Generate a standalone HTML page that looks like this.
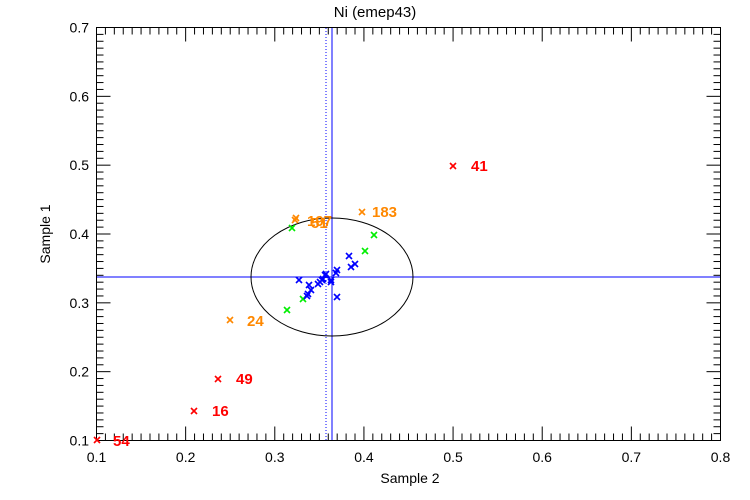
<!DOCTYPE html>
<html><head><style>body{margin:0;background:#fff}svg{display:block}text{font-family:"Liberation Sans",sans-serif}</style></head>
<body>
<svg width="750" height="500" viewBox="0 0 750 500" xmlns="http://www.w3.org/2000/svg">
<rect width="750" height="500" fill="#fff"/>
<g id="ticks" stroke="#000" stroke-width="1"></g>
<rect x="96.5" y="27.5" width="624" height="413" fill="none" stroke="#000"/>
<g font-size="14" fill="#000" text-anchor="middle" id="xl"></g>
<g font-size="14" fill="#000" text-anchor="end" id="yl"></g>
<text x="375" y="17" font-size="15" text-anchor="middle">Ni (emep43)</text>
<text x="410" y="483" font-size="14" text-anchor="middle">Sample 2</text>
<text x="50" y="234" font-size="14" text-anchor="middle" transform="rotate(-90 50 234)">Sample 1</text>
<line x1="332" y1="28" x2="332" y2="440" stroke="#00f"/>
<line x1="326" y1="28" x2="326" y2="440" stroke="#00f" stroke-dasharray="1,2"/>
<line x1="97" y1="277" x2="720" y2="277" stroke="#00f"/>
<ellipse cx="332" cy="277" rx="81" ry="59" fill="none" stroke="#000"/>
<g id="pts" stroke-width="1.6"></g>
<g font-size="15" font-weight="bold">
<text x="471" y="171" fill="#f00">41</text>
<text x="236" y="384" fill="#f00">49</text>
<text x="212" y="416" fill="#f00">16</text>
<text x="113" y="446" fill="#f00">54</text>
<text x="372" y="217" fill="#f80">183</text>
<text x="247" y="326" fill="#f80">24</text>
<text x="307" y="226" fill="#f80">197</text>
<text x="311" y="228" fill="#f80">51</text>
</g>
<script>
var ns="http://www.w3.org/2000/svg";
function el(p,t,a){var e=document.createElementNS(ns,t);for(var k in a)e.setAttribute(k,a[k]);document.getElementById(p).appendChild(e);return e;}
var L=96.5,R=720.5,T=27.5,B=440.5,px=(R-L)/70,py=(B-T)/60;
for(var i=0;i<=70;i++){var x=L+i*px,len=i%10==0?14:7;
el("ticks","line",{x1:x,y1:B,x2:x,y2:B-len});el("ticks","line",{x1:x,y1:T,x2:x,y2:T+len});
if(i%10==0){var t=el("xl","text",{x:x,y:462});t.textContent=(0.1+i/100).toFixed(1);}}
for(var j=0;j<=60;j++){var y=B-j*py,len=j%10==0?14:7;
el("ticks","line",{x1:L,y1:y,x2:L+len,y2:y});el("ticks","line",{x1:R,y1:y,x2:R-len,y2:y});
if(j%10==0){var t=el("yl","text",{x:89,y:y+5});t.textContent=(0.1+j/100).toFixed(1);}}
function X(x,y,c){var s=3;el("pts","line",{x1:x-s,y1:y-s,x2:x+s,y2:y+s,stroke:c});el("pts","line",{x1:x-s,y1:y+s,x2:x+s,y2:y-s,stroke:c});}
[[453,166],[218,379],[194,411],[97,440]].forEach(p=>X(p[0],p[1],"#f00"));
[[295,220],[362,212],[230,320],[296,218]].forEach(p=>X(p[0],p[1],"#f80"));
[[292,228],[374,235],[365,251],[303,299],[287,310]].forEach(p=>X(p[0],p[1],"#0e0"));
[[349,256],[355,264],[351,267],[337,270],[336,273],[325,275],[323,279],[320,282],[318,284],[331,280],[331,282],[299,280],[309,285],[311,290],[308,294],[307,296],[337,297],[326,274],[322,280]].forEach(p=>X(p[0],p[1],"#00f"));
</script>
</svg>
</body></html>
